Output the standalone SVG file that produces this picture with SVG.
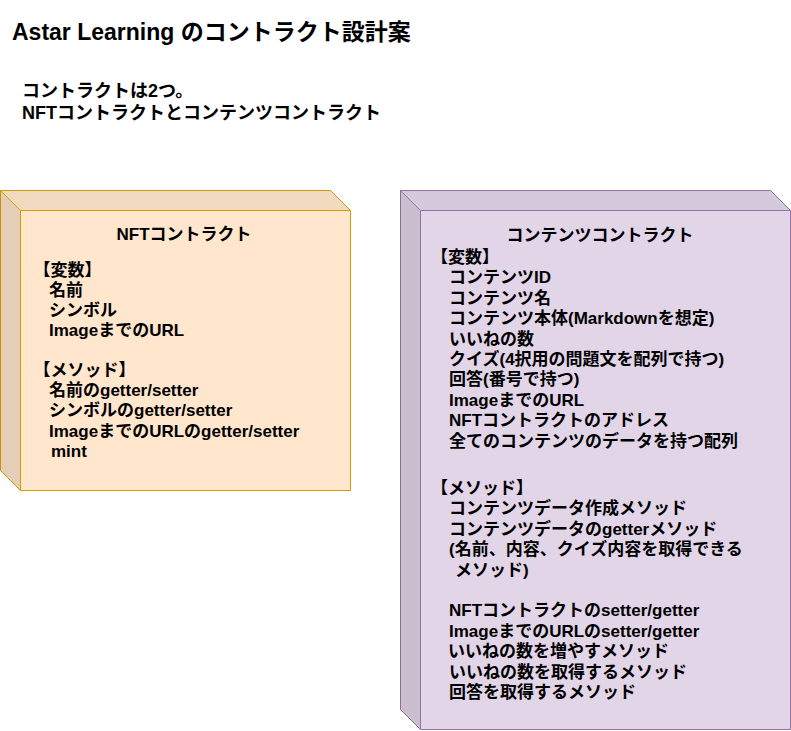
<svg xmlns="http://www.w3.org/2000/svg" width="791" height="731" viewBox="0 0 791 731">
  <style>
    text { font-family: "Liberation Sans", "Noto Sans CJK JP", sans-serif; font-weight: bold; fill: #000000; }
    .title { font-size: 23px; }
    .sub { font-size: 18px; }
    .body { font-size: 17px; }
    .mid { text-anchor: middle; }
    .nft-body { fill: #ffe6cc; stroke: #d79b00; stroke-width: 1; }
    .nft-edge { fill: none; stroke: #d79b00; stroke-width: 1; }
    .cnt-body { fill: #e1d5e7; stroke: #9673a6; stroke-width: 1; }
    .cnt-edge { fill: none; stroke: #9673a6; stroke-width: 1; }
    .shade1 { fill: #000000; fill-opacity: 0.05; stroke: none; }
    .shade2 { fill: #000000; fill-opacity: 0.1; stroke: none; }
  </style>
  <rect x="0" y="0" width="791" height="731" fill="#ffffff"/>

  <g id="title">
    <text class="title" x="12" y="39.5" xml:space="preserve">Astar Learning のコントラクト設計案</text>
  </g>

  <g id="note">
    <text class="sub" x="22" y="97">コントラクトは2つ。</text>
    <text class="sub" x="22" y="119">NFTコントラクトとコンテンツコントラクト</text>
  </g>

  <g id="nft-contract">
    <path class="nft-body" d="M0.5,190.5 L330.5,190.5 L350.5,210.5 L350.5,490.5 L20.5,490.5 L0.5,470.5 Z"/>
    <path class="shade1" d="M0.5,190.5 L330.5,190.5 L350.5,210.5 L20.5,210.5 Z"/>
    <path class="shade2" d="M0.5,190.5 L20.5,210.5 L20.5,490.5 L0.5,470.5 Z"/>
    <path class="nft-edge" d="M0.5,190.5 L20.5,210.5 L350.5,210.5 M20.5,210.5 L20.5,490.5"/>
    <text class="body mid" x="184" y="240">NFTコントラクト</text>
    <text class="body" x="33.5" y="276">【変数】</text>
    <text class="body" x="49" y="296">名前</text>
    <text class="body" x="49" y="316">シンボル</text>
    <text class="body" x="49" y="336">ImageまでのURL</text>
    <text class="body" x="33.5" y="376">【メソッド】</text>
    <text class="body" x="49" y="396">名前のgetter/setter</text>
    <text class="body" x="49" y="416">シンボルのgetter/setter</text>
    <text class="body" x="49" y="437">ImageまでのURLのgetter/setter</text>
    <text class="body" x="51" y="457">mint</text>
  </g>

  <g id="contents-contract">
    <path class="cnt-body" d="M400.5,190.5 L770.5,190.5 L790.5,210.5 L790.5,729.5 L420.5,729.5 L400.5,709.5 Z"/>
    <path class="shade1" d="M400.5,190.5 L770.5,190.5 L790.5,210.5 L420.5,210.5 Z"/>
    <path class="shade2" d="M400.5,190.5 L420.5,210.5 L420.5,729.5 L400.5,709.5 Z"/>
    <path class="cnt-edge" d="M400.5,190.5 L420.5,210.5 L790.5,210.5 M420.5,210.5 L420.5,729.5"/>
    <text class="body mid" x="600" y="241">コンテンツコントラクト</text>
    <text class="body" x="431" y="263">【変数】</text>
    <text class="body" x="449" y="283.4">コンテンツID</text>
    <text class="body" x="449" y="303.8">コンテンツ名</text>
    <text class="body" x="449" y="324.2">コンテンツ本体(Markdownを想定)</text>
    <text class="body" x="449" y="344.6">いいねの数</text>
    <text class="body" x="449" y="365">クイズ(4択用の問題文を配列で持つ)</text>
    <text class="body" x="449" y="385.4">回答(番号で持つ)</text>
    <text class="body" x="449" y="405.8">ImageまでのURL</text>
    <text class="body" x="449" y="426.2">NFTコントラクトのアドレス</text>
    <text class="body" x="449" y="446.6">全てのコンテンツのデータを持つ配列</text>
    <text class="body" x="431" y="494">【メソッド】</text>
    <text class="body" x="449" y="514.4">コンテンツデータ作成メソッド</text>
    <text class="body" x="449" y="534.8">コンテンツデータのgetterメソッド</text>
    <text class="body" x="449" y="555.2">(名前、内容、クイズ内容を取得できる</text>
    <text class="body" x="455" y="575.6">メソッド)</text>
    <text class="body" x="449" y="616.4">NFTコントラクトのsetter/getter</text>
    <text class="body" x="449" y="636.8">ImageまでのURLのsetter/getter</text>
    <text class="body" x="448" y="657.2">いいねの数を増やすメソッド</text>
    <text class="body" x="449" y="677.6">いいねの数を取得するメソッド</text>
    <text class="body" x="449" y="698">回答を取得するメソッド</text>
  </g>

  <g id="connectors"></g>
</svg>
